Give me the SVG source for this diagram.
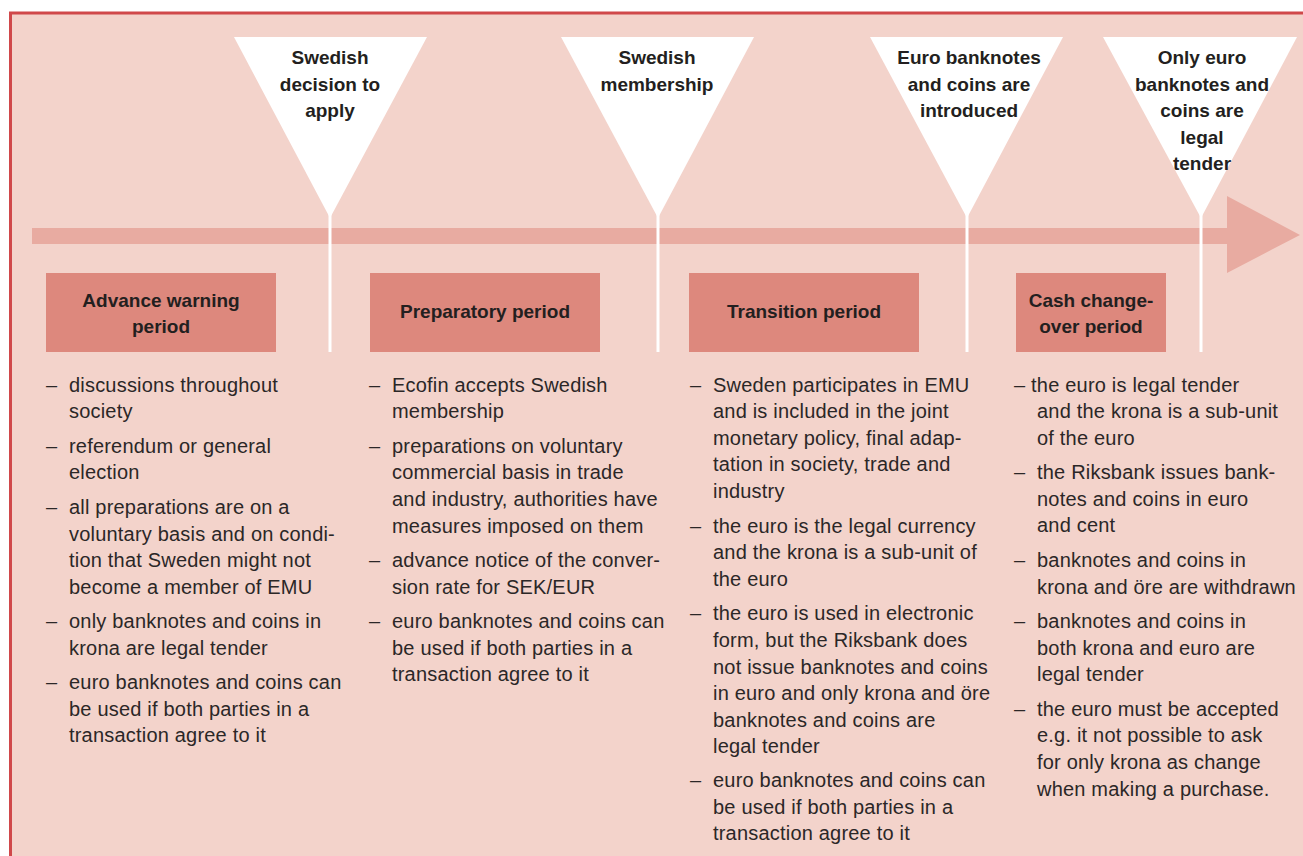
<svg xmlns="http://www.w3.org/2000/svg" width="1303" height="856" viewBox="0 0 1303 856">
<style>
.bg{fill:#F3D3CB}
.tri{fill:#FFFFFF}
.box{fill:#DD887D}
.bar{fill:#E8ABA1}
.vl{stroke:#FFFFFF;stroke-width:3;fill:none}
.h{font-family:"Liberation Sans",Arial,sans-serif;font-weight:bold;font-size:19px;fill:#231F20;text-anchor:middle}
.t{font-family:"Liberation Sans",Arial,sans-serif;font-size:20px;letter-spacing:0.2px;fill:#2B2727}
</style>
<rect x="0" y="0" width="1303" height="856" fill="#FFFFFF"/>
<rect class="bg" x="10" y="13" width="1300" height="850"/>
<path d="M10.5 856 V13 H1303" stroke="#D0484A" stroke-width="3" fill="none"/>

<g id="connectors">
  <path class="bar" d="M32 228 H1227 V196 L1300 235 L1227 273 V244 H32 Z"/>
  <line class="vl" x1="330" y1="214" x2="330" y2="352"/>
  <line class="vl" x1="658" y1="214" x2="658" y2="352"/>
  <line class="vl" x1="967" y1="214" x2="967" y2="352"/>
  <line class="vl" x1="1201" y1="214" x2="1201" y2="352"/>
</g>

<g id="m1">
  <polygon class="tri" points="234,37 427,37 330,218"/>
  <text class="h" x="330" y="64">Swedish</text>
  <text class="h" x="330" y="91">decision to</text>
  <text class="h" x="330" y="117">apply</text>
</g>
<g id="m2">
  <polygon class="tri" points="561,37 754,37 658,218"/>
  <text class="h" x="657" y="64">Swedish</text>
  <text class="h" x="657" y="91">membership</text>
</g>
<g id="m3">
  <polygon class="tri" points="870,37 1063,37 967,218"/>
  <text class="h" x="969" y="64">Euro banknotes</text>
  <text class="h" x="969" y="91">and coins are</text>
  <text class="h" x="969" y="117">introduced</text>
</g>
<g id="m4">
  <polygon class="tri" points="1103,37 1297,37 1201,218"/>
  <text class="h" x="1202" y="64">Only euro</text>
  <text class="h" x="1202" y="91">banknotes and</text>
  <text class="h" x="1202" y="117">coins are</text>
  <text class="h" x="1202" y="144">legal</text>
  <text class="h" x="1202" y="170">tender</text>
</g>

<g id="p1">
  <rect class="box" x="46" y="273" width="230" height="79"/>
  <text class="h" x="161" y="307">Advance warning</text>
  <text class="h" x="161" y="333">period</text>
</g>
<g id="p2">
  <rect class="box" x="370" y="273" width="230" height="79"/>
  <text class="h" x="485" y="318">Preparatory period</text>
</g>
<g id="p3">
  <rect class="box" x="689" y="273" width="230" height="79"/>
  <text class="h" x="804" y="318">Transition period</text>
</g>
<g id="p4">
  <rect class="box" x="1016" y="273" width="150" height="79"/>
  <text class="h" x="1091" y="307">Cash change-</text>
  <text class="h" x="1091" y="333">over period</text>
</g>

<g id="list1" class="t">
  <text x="46" y="392">–</text><text x="69" y="392">discussions throughout</text>
  <text x="69" y="418">society</text>
  <text x="46" y="453">–</text><text x="69" y="453">referendum or general</text>
  <text x="69" y="479">election</text>
  <text x="46" y="514">–</text><text x="69" y="514">all preparations are on a</text>
  <text x="69" y="541">voluntary basis and on condi-</text>
  <text x="69" y="567">tion that Sweden might not</text>
  <text x="69" y="594">become a member of EMU</text>
  <text x="46" y="628">–</text><text x="69" y="628">only banknotes and coins in</text>
  <text x="69" y="655">krona are legal tender</text>
  <text x="46" y="689">–</text><text x="69" y="689">euro banknotes and coins can</text>
  <text x="69" y="716">be used if both parties in a</text>
  <text x="69" y="742">transaction agree to it</text>
</g>

<g id="list2" class="t">
  <text x="369" y="392">–</text><text x="392" y="392">Ecofin accepts Swedish</text>
  <text x="392" y="418">membership</text>
  <text x="369" y="453">–</text><text x="392" y="453">preparations on voluntary</text>
  <text x="392" y="479">commercial basis in trade</text>
  <text x="392" y="506">and industry, authorities have</text>
  <text x="392" y="533">measures imposed on them</text>
  <text x="369" y="567">–</text><text x="392" y="567">advance notice of the conver-</text>
  <text x="392" y="594">sion rate for SEK/EUR</text>
  <text x="369" y="628">–</text><text x="392" y="628">euro banknotes and coins can</text>
  <text x="392" y="655">be used if both parties in a</text>
  <text x="392" y="681">transaction agree to it</text>
</g>

<g id="list3" class="t">
  <text x="690" y="392">–</text><text x="713" y="392">Sweden participates in EMU</text>
  <text x="713" y="418">and is included in the joint</text>
  <text x="713" y="445">monetary policy, final adap-</text>
  <text x="713" y="471">tation in society, trade and</text>
  <text x="713" y="498">industry</text>
  <text x="690" y="533">–</text><text x="713" y="533">the euro is the legal currency</text>
  <text x="713" y="559">and the krona is a sub-unit of</text>
  <text x="713" y="586">the euro</text>
  <text x="690" y="620">–</text><text x="713" y="620">the euro is used in electronic</text>
  <text x="713" y="647">form, but the Riksbank does</text>
  <text x="713" y="674">not issue banknotes and coins</text>
  <text x="713" y="700">in euro and only krona and öre</text>
  <text x="713" y="727">banknotes and coins are</text>
  <text x="713" y="753">legal tender</text>
  <text x="690" y="787">–</text><text x="713" y="787">euro banknotes and coins can</text>
  <text x="713" y="814">be used if both parties in a</text>
  <text x="713" y="840">transaction agree to it</text>
</g>

<g id="list4" class="t">
  <text x="1014" y="392">– the euro is legal tender</text>
  <text x="1037" y="418">and the krona is a sub-unit</text>
  <text x="1037" y="445">of the euro</text>
  <text x="1014" y="479">–</text><text x="1037" y="479">the Riksbank issues bank-</text>
  <text x="1037" y="506">notes and coins in euro</text>
  <text x="1037" y="532">and cent</text>
  <text x="1014" y="567">–</text><text x="1037" y="567">banknotes and coins in</text>
  <text x="1037" y="594">krona and öre are withdrawn</text>
  <text x="1014" y="628">–</text><text x="1037" y="628">banknotes and coins in</text>
  <text x="1037" y="655">both krona and euro are</text>
  <text x="1037" y="681">legal tender</text>
  <text x="1014" y="716">–</text><text x="1037" y="716">the euro must be accepted</text>
  <text x="1037" y="742">e.g. it not possible to ask</text>
  <text x="1037" y="769">for only krona as change</text>
  <text x="1037" y="796">when making a purchase.</text>
</g>
</svg>
